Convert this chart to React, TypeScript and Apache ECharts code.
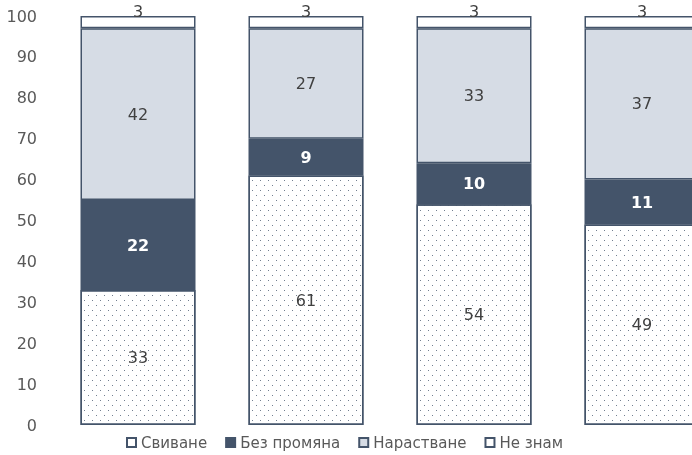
import React, { useEffect, useRef } from "react";
import * as echarts from "echarts";

const categories = ["1", "2", "3", "4"];
const seriesNames = ["Свиване", "Без промяна", "Нарастване", "Не знам"];
const shrink = [33, 61, 54, 49];
const noChange = [22, 9, 10, 11];
const growth = [42, 27, 33, 37];
const dontKnow = [3, 3, 3, 3];

const DARK = "#44546A";
const LIGHT = "#D6DCE5";
const TEXT = "#595959";
const FONT = "'DejaVu Sans', Verdana, sans-serif";

export default function App() {
  const ref = useRef<HTMLDivElement>(null);
  useEffect(() => {
    if (!ref.current) return;
    const chart = echarts.init(ref.current, null, { renderer: "svg" });
    const border = { borderColor: DARK, borderWidth: 1.5 };
    chart.setOption({
      animation: false,
      textStyle: { fontFamily: FONT },
      grid: { left: 54, right: 0, top: 16, bottom: 30 },
      legend: {
        bottom: 0,
        left: 121,
        icon: "rect",
        itemWidth: 9,
        itemHeight: 9,
        itemGap: 18,
        textStyle: { color: TEXT, fontSize: 15, fontFamily: FONT },
        data: seriesNames,
      },
      xAxis: {
        type: "category",
        data: categories,
        show: false,
      },
      yAxis: {
        type: "value",
        min: 0,
        max: 100,
        interval: 10,
        axisLine: { show: false },
        axisTick: { show: false },
        splitLine: { show: false },
        axisLabel: { color: TEXT, fontSize: 16, margin: 17, fontFamily: FONT },
      },
      series: [
        {
          name: seriesNames[0],
          type: "bar",
          stack: "s",
          barWidth: 115,
          data: shrink,
          itemStyle: {
            color: "#FFFFFF",
            ...border,
            decal: {
              symbol: "rect",
              symbolSize: 1,
              color: "rgba(68,84,106,0.75)",
              backgroundColor: "#FFFFFF",
              dashArrayX: [
                [1, 7],
                [0, 4, 1, 3],
              ],
              dashArrayY: [1, 4],
              rotation: 0,
            },
          },
          label: { show: true, position: "inside", color: "#404040", fontSize: 16, fontFamily: FONT },
        },
        {
          name: seriesNames[1],
          type: "bar",
          stack: "s",
          barWidth: 115,
          data: noChange,
          itemStyle: { color: DARK, ...border },
          label: { show: true, position: "inside", color: "#FFFFFF", fontWeight: "bold", fontSize: 16, fontFamily: FONT },
        },
        {
          name: seriesNames[2],
          type: "bar",
          stack: "s",
          barWidth: 115,
          data: growth,
          itemStyle: { color: LIGHT, ...border },
          label: { show: true, position: "inside", color: "#404040", fontSize: 16, fontFamily: FONT },
        },
        {
          name: seriesNames[3],
          type: "bar",
          stack: "s",
          barWidth: 115,
          data: dontKnow,
          itemStyle: { color: "#FFFFFF", ...border },
          label: { show: true, position: "top", distance: -3, color: "#404040", fontSize: 16, fontFamily: FONT },
        },
      ],
    });
    return () => chart.dispose();
  }, []);
  return (
    <div
      ref={ref}
      style={{ position: "fixed", left: 0, top: 0, width: 726, height: 455 }}
    />
  );
}
